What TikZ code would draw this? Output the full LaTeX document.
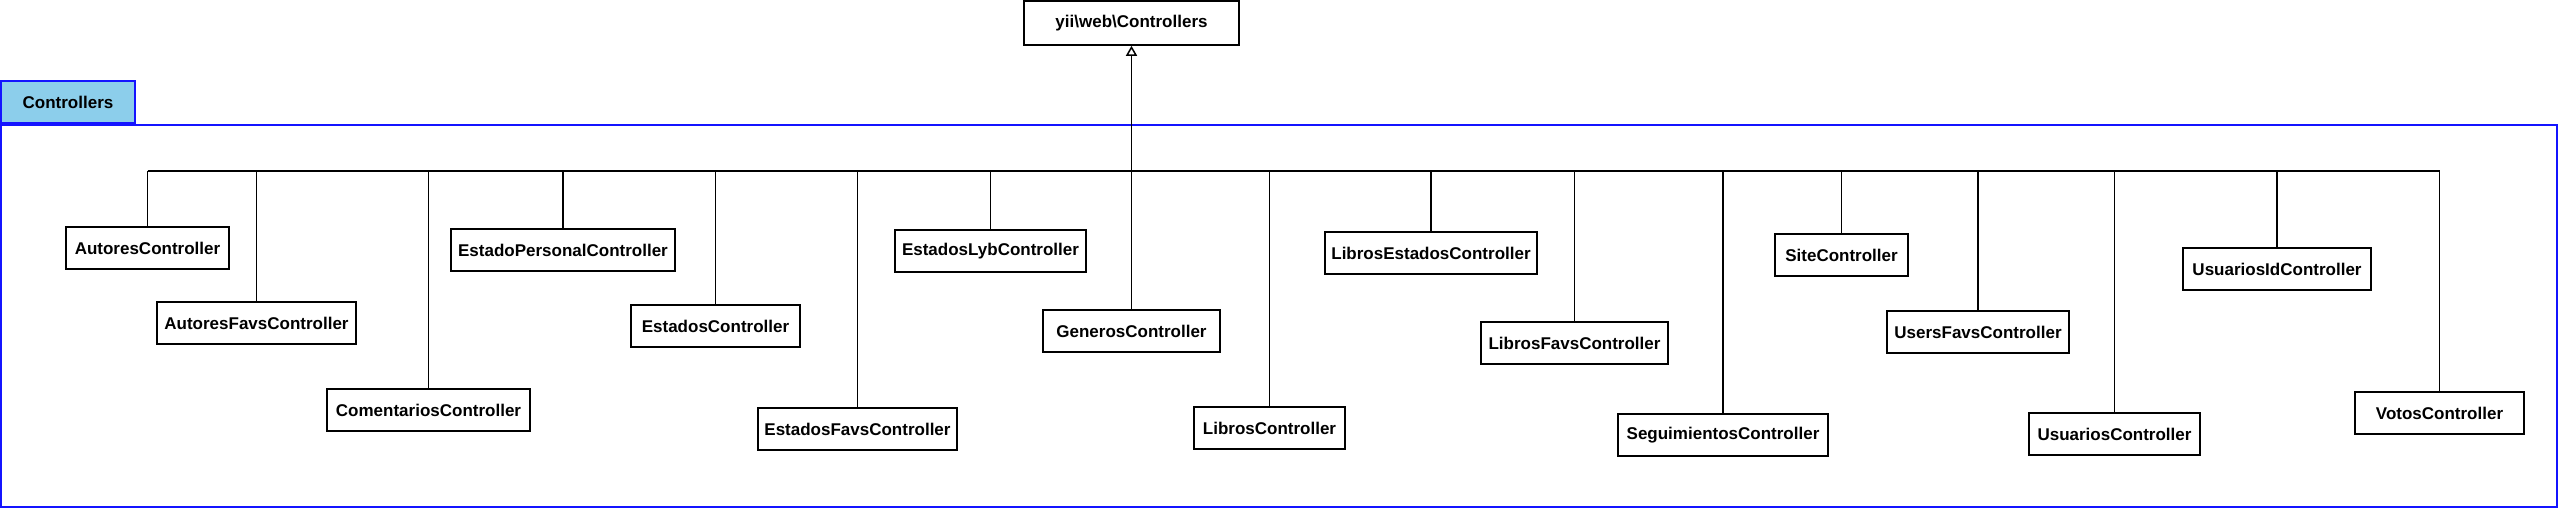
\documentclass[tikz,border=0pt]{standalone}
\usepackage{fontspec}
\setmainfont{Liberation Sans}
\usetikzlibrary{arrows.meta}
\definecolor{pkgblue}{RGB}{20,20,255}
\definecolor{tabfill}{RGB}{140,206,235}
\tikzset{
  cls/.style={draw=black, line width=1.6pt, fill=white, minimum height=42, inner sep=0pt, font=\fontsize{17}{20}\selectfont\bfseries},
  pkgframe/.style={draw=pkgblue, line width=1.6pt, inner sep=0pt},
  pkgtab/.style={draw=pkgblue, line width=1.6pt, fill=tabfill, inner sep=0pt, font=\fontsize{17}{20}\selectfont\bfseries},
  link/.style={draw=black, line width=1.5pt},
  generalization/.style={draw=black, line width=1.5pt, -{Triangle[open, length=10pt, width=11pt, line width=1.5pt]}}
}
\begin{document}
\begin{tikzpicture}[x=1pt,y=-1pt]
\useasboundingbox (0,0) rectangle (2559,509);
% package
\node[pkgframe, minimum width=2556, minimum height=382] (pkg) at (1279,316) {};
\node[pkgtab, minimum width=134, minimum height=42] (tab) at (68,102) {Controllers};
% parent class
\node[cls, minimum width=215, minimum height=44] (yii) at (1131.5,23) {yii\textbackslash web\textbackslash Controllers};
% classes
\node[cls, minimum width=163] (autores) at (147.5,248) {AutoresController};
\node[cls, minimum width=199] (autoresfavs) at (256.5,323) {AutoresFavsController};
\node[cls, minimum width=203] (comentarios) at (428.5,410) {ComentariosController};
\node[cls, minimum width=224] (estadopersonal) at (563,250) {EstadoPersonalController};
\node[cls, minimum width=169] (estados) at (715.5,326) {EstadosController};
\node[cls, minimum width=199] (estadosfavs) at (857.5,429) {EstadosFavsController};
\node[cls, minimum width=191] (estadoslyb) at (990.5,251) {EstadosLybController};
\node[cls, minimum width=177] (generos) at (1131.5,331) {GenerosController};
\node[cls, minimum width=151] (libros) at (1269.5,428) {LibrosController};
\node[cls, minimum width=212] (librosestados) at (1431,253) {LibrosEstadosController};
\node[cls, minimum width=187] (librosfavs) at (1574.5,343) {LibrosFavsController};
\node[cls, minimum width=210] (seguimientos) at (1723,435) {SeguimientosController};
\node[cls, minimum width=133] (site) at (1841.5,255) {SiteController};
\node[cls, minimum width=182] (usersfavs) at (1978,332) {UsersFavsController};
\node[cls, minimum width=171] (usuarios) at (2114.5,434) {UsuariosController};
\node[cls, minimum width=188] (usuariosid) at (2277,269) {UsuariosIdController};
\node[cls, minimum width=169] (votos) at (2439.5,413) {VotosController};
% bus
\coordinate (busL) at (147.5,171);
\coordinate (busR) at (2439.5,171);
\coordinate (join) at (1131.5,171);
\draw[link] (busL) -- (busR);
\foreach \n in {autores,autoresfavs,comentarios,estadopersonal,estados,estadosfavs,estadoslyb,generos,libros,librosestados,librosfavs,seguimientos,site,usersfavs,usuarios,usuariosid,votos}
  \draw[link] (\n.north) -- (\n.north |- busL);
\draw[generalization] (join) -- (yii.south);
\end{tikzpicture}
\end{document}
